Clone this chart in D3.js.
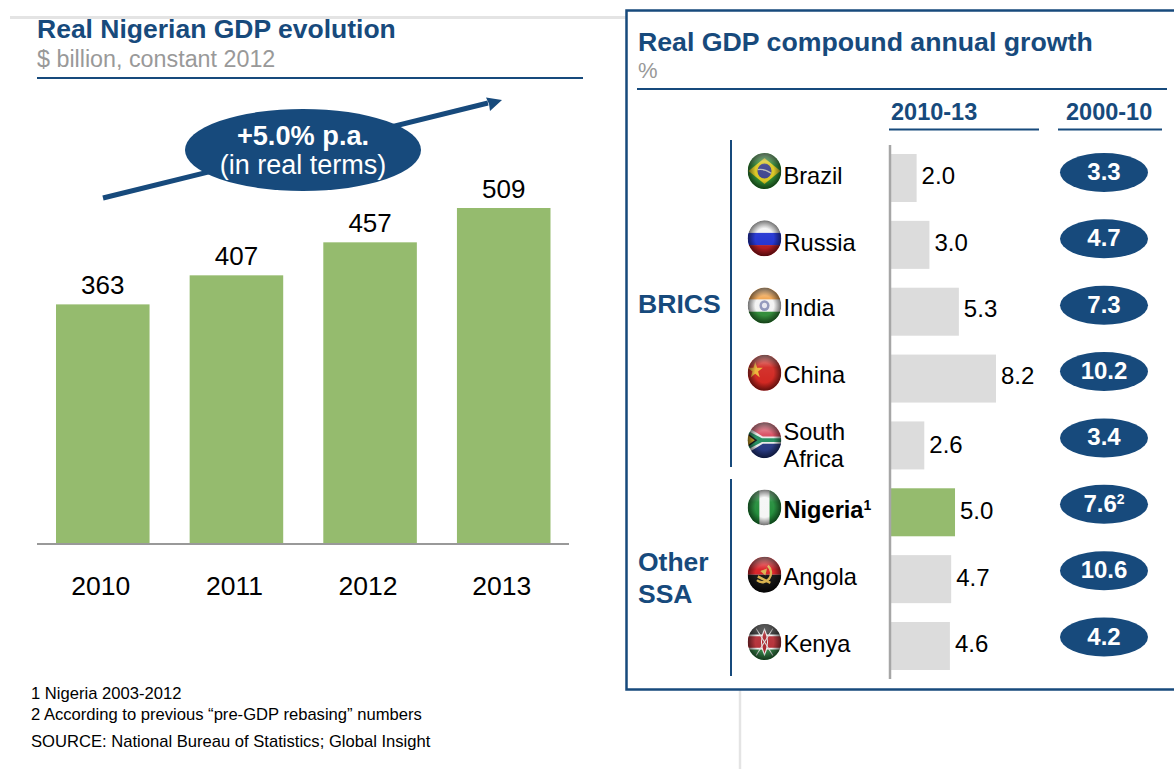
<!DOCTYPE html>
<html><head><meta charset="utf-8">
<script src="https://d3js.org/d3.v7.min.js"></script>
<style>
html,body{margin:0;padding:0;background:#fff}
svg{display:block}
text{font-family:"Liberation Sans",Arial,sans-serif}
</style></head><body><svg id="c" width="1174" height="769"></svg>
<script>
const years = ["2010","2011","2012","2013"];
const gdpValues = [363,407,457,509];
const countries = ["Brazil","Russia","India","China","South Africa","Nigeria","Angola","Kenya"];
const growth1013 = [2.0,3.0,5.3,8.2,2.6,5.0,4.7,4.6];
const growth0010 = ["3.3","4.7","7.3","10.2","3.4","7.6","10.6","4.2"];
const highlightCountry = "Nigeria";
const footnotes = ["1 Nigeria 2003-2012","2 According to previous \u201cpre-GDP rebasing\u201d numbers","SOURCE: National Bureau of Statistics; Global Insight"];

const BLUE="#174a7c", GREEN="#95bb6e", GREY="#dcdcdc";
const svg=d3.select("#c");
const text=(x,y,s,size,o={})=>svg.append("text").attr("x",x).attr("y",y).attr("font-size",size)
  .attr("font-weight",o.bold?"bold":"normal").attr("fill",o.fill||"#000").attr("text-anchor",o.anchor||"start").text(s);
const line=(x1,y1,x2,y2,c,w)=>svg.append("line").attr("x1",x1).attr("y1",y1).attr("x2",x2).attr("y2",y2).attr("stroke",c).attr("stroke-width",w);

// background rules
line(10,17.5,626,17.5,"#e4e4e4",3);
line(740,690,740,769,"#e4e4e4",2.5);

// ---------- left chart
text(37,38,"Real Nigerian GDP evolution",26.5,{bold:true,fill:BLUE});
text(37,67,"$ billion, constant 2012",23.3,{fill:"#999"});
line(37,78,583,78,BLUE,2);

const x=d3.scaleBand().domain(years).range([56,550.5]).paddingInner(0.3);
const y=d3.scaleLinear().domain([0,509]).range([544,208]);
svg.append("g").selectAll("rect").data(years).join("rect")
  .attr("x",d=>x(d)).attr("width",x.bandwidth())
  .attr("y",(d,i)=>y(gdpValues[i])).attr("height",(d,i)=>y(0)-y(gdpValues[i])).attr("fill",GREEN);
svg.append("g").selectAll("text").data(years).join("text")
  .attr("x",d=>x(d)+x.bandwidth()/2).attr("y",(d,i)=>y(gdpValues[i])-10)
  .attr("text-anchor","middle").attr("font-size",26).text((d,i)=>gdpValues[i]);
line(37,544,569,544,"#999",2);
const xAxis=svg.append("g").attr("transform","translate(-2,544)")
  .call(d3.axisBottom(x).tickSize(0).tickPadding(32));
xAxis.select(".domain").remove();
xAxis.selectAll("text").attr("font-size",26.5).attr("font-family",'"Liberation Sans",Arial,sans-serif').attr("fill","#000");

// arrow + callout
svg.append("path").attr("d",d3.line()([[103,198],[488,103]])).attr("stroke",BLUE).attr("stroke-width",5).attr("fill","none");
svg.append("path").attr("d","M502,100 L486,97.5 L489,104 L490,111 Z").attr("fill",BLUE);
svg.append("ellipse").attr("cx",303).attr("cy",150).attr("rx",118).attr("ry",41).attr("fill",BLUE);
text(303,145,"+5.0% p.a.",27.2,{bold:true,fill:"#fff",anchor:"middle"});
text(303,174,"(in real terms)",27,{fill:"#fff",anchor:"middle"});

// footnotes
[699,720,747].forEach((b,i)=>text(31,b,footnotes[i],16.6));

// ---------- right panel
svg.append("rect").attr("x",626.5).attr("y",10.5).attr("width",620).attr("height",679).attr("fill","#fff").attr("stroke",BLUE).attr("stroke-width",2.5);
text(638,51,"Real GDP compound annual growth",26.7,{bold:true,fill:BLUE});
text(638,78,"%",22,{fill:"#999"});
line(637,89,1167,89,BLUE,2);
text(891,120,"2010-13",23.5,{bold:true,fill:BLUE});
line(889,129.5,1039,129.5,BLUE,2);
text(1066,120,"2000-10",23.5,{bold:true,fill:BLUE});
line(1058,129.5,1162,129.5,BLUE,2);

line(731,140,731,467,BLUE,2);
line(731,479,731,676,BLUE,2);
text(638,313,"BRICS",26.6,{bold:true,fill:BLUE});
text(638,571,"Other",26.5,{bold:true,fill:BLUE});
text(638,603,"SSA",26.5,{bold:true,fill:BLUE});

const row=d3.scaleBand().domain(countries).range([154,670]).paddingInner(0.282);
const bx=d3.scaleLinear().domain([0,8.2]).range([891,996]);
const pillY=d3.scalePoint().domain(countries).range([172.5,637]);
const flagY=d3.scalePoint().domain(countries).range([171,642]);
const labelNudge=c=>(c==="India"||c==="China")?-1.5:0;

svg.append("g").selectAll("rect").data(countries).join("rect")
  .attr("x",bx(0)).attr("y",d=>row(d)).attr("height",row.bandwidth())
  .attr("width",(d,i)=>bx(growth1013[i])-bx(0))
  .attr("fill",d=>d===highlightCountry?GREEN:GREY);
line(890,145,890,679,"#a6a6a6",2.5);
svg.append("g").selectAll("text").data(countries).join("text")
  .attr("x",(d,i)=>bx(growth1013[i])+5).attr("y",d=>row(d)+row.bandwidth()/2+6.5+labelNudge(d)+(d==="South Africa"?1.5:0)-(d==="Brazil"?1:0))
  .attr("font-size",24).text((d,i)=>growth1013[i].toFixed(1));

// country labels
countries.forEach(c=>{
  const b=row(c)+row.bandwidth()/2+6+labelNudge(c);
  if(c==="South Africa"){
    text(783.5,b-11,"South",23.6); text(783.5,b+16,"Africa",23.6);
  } else if(c===highlightCountry){
    const t=text(783.5,b,c,23.6,{bold:true});
    t.append("tspan").attr("font-size",14).attr("dy",-8).text("1");
  } else text(783.5,b,c,23.6);
});

// pills
svg.append("g").selectAll("ellipse").data(countries).join("ellipse")
  .attr("cx",1104).attr("cy",d=>pillY(d)).attr("rx",44).attr("ry",19.5).attr("fill",BLUE);
countries.forEach((c,i)=>{
  const t=text(1104,pillY(c)+7.5,growth0010[i],24,{bold:true,fill:"#fff",anchor:"middle"});
  if(c===highlightCountry) t.append("tspan").attr("font-size",14).attr("dy",-8).text("2");
});

// flag icons (drawn in a -1..1 unit box)
const defs=svg.append("defs");
defs.append("clipPath").attr("id","disc").append("circle").attr("r",1);
const blur=defs.append("filter").attr("id","soft").attr("x","-10%").attr("y","-10%").attr("width","120%").attr("height","120%");
blur.append("feGaussianBlur").attr("stdDeviation",0.035);
const sh=defs.append("radialGradient").attr("id","shade").attr("cx","50%").attr("cy","50%").attr("r","50%");
sh.append("stop").attr("offset","55%").attr("stop-color","#000").attr("stop-opacity",0);
sh.append("stop").attr("offset","100%").attr("stop-color","#000").attr("stop-opacity",0.55);
const gl=defs.append("linearGradient").attr("id","gloss").attr("x1",0).attr("y1",0).attr("x2",0).attr("y2",1);
gl.append("stop").attr("offset","0%").attr("stop-color","#fff").attr("stop-opacity",0.6);
gl.append("stop").attr("offset","35%").attr("stop-color","#fff").attr("stop-opacity",0.08);
gl.append("stop").attr("offset","100%").attr("stop-color","#fff").attr("stop-opacity",0);

const R=(g,x,y,w,h,f)=>g.append("rect").attr("x",x).attr("y",y).attr("width",w).attr("height",h).attr("fill",f);
const P=(g,d,f,s,sw)=>g.append("path").attr("d",d).attr("fill",f||"none").attr("stroke",s||"none").attr("stroke-width",sw||0);
const C=(g,x,y,r,f)=>g.append("circle").attr("cx",x).attr("cy",y).attr("r",r).attr("fill",f);
const painters={
 "Brazil":g=>{R(g,-1,-1,2,2,"#2c8a2e");P(g,"M-.95,0L0,-.72L.95,0L0,.72Z","#d9c51c");C(g,0,0,.42,"#3a3f8c");P(g,"M-.4,-.08Q0,-.14.4,.12","none","#bbb",.07);},
 "Russia":g=>{R(g,-1,-1,2,.72,"#f1f1f1");R(g,-1,-.3,2,.7,"#1f2fd0");R(g,-1,.38,2,.62,"#b0131c");},
 "India":g=>{R(g,-1,-1,2,.68,"#ef9a3a");R(g,-1,-.34,2,.68,"#f2f2f2");R(g,-1,.34,2,.66,"#2f8a35");C(g,0,0,.3,"#8d93b8");C(g,0,0,.15,"#e8e8f0");},
 "China":g=>{R(g,-1,-1,2,2,"#d0211c");P(g,"M-.55,-.62L-.44,-.28L-.1,-.28L-.38,-.08L-.28,.26L-.55,.05L-.82,.26L-.72,-.08L-1,-.28L-.66,-.28Z","#eeb030");},
 "South Africa":g=>{R(g,-1,-1,2,1,"#d8455a");R(g,-1,0,2,1,"#23357f");P(g,"M-1,-.72L-.1,-.2L1,-.2L1,.2L-.1,.2L-1,.72Z","#e8e8e8");P(g,"M-1,-.52L-.15,-.11L1,-.11L1,.11L-.15,.11L-1,.52Z","#1f8a5a");P(g,"M-1,-.38L-.42,0L-1,.38Z","#111");P(g,"M-1,-.28L-.58,0L-1,.28Z","#d0a31c");},
 "Nigeria":g=>{R(g,-1,-1,.72,2,"#1e8a35");R(g,-.3,-1,.6,2,"#f5f5f5");R(g,.3,-1,.7,2,"#1e8a35");},
 "Angola":g=>{R(g,-1,-1,2,1,"#d8141c");R(g,-1,0,2,1,"#0b0b0b");P(g,"M.2,-.5A.5,.5 0 1 1 -.45,.3","none","#d8b04a",.14);P(g,"M-.4,.1L.35,.45","none","#d8b04a",.14);P(g,"M-.25,-.2L.15,-.35L.05,.05Z","#d8b04a");},
 "Kenya":g=>{R(g,-1,-1,2,.66,"#1a1a1a");R(g,-1,-.34,2,.68,"#b32a32");R(g,-1,.34,2,.66,"#2d7a3f");R(g,-1,-.42,2,.1,"#eee");R(g,-1,.32,2,.1,"#eee");P(g,"M0,-.72Q.36,0 0,.72Q-.36,0 0,-.72Z","#a8222a","#eee",.06);P(g,"M-.5,-.75L.5,.75M.5,-.75L-.5,.75","none","#ddd",.06);}
};
countries.forEach(c=>{
  const g=svg.append("g").attr("transform",`translate(764.5,${flagY(c)}) scale(16.8,18)`);
  const f=g.append("g").attr("clip-path","url(#disc)");
  const inner=f.append("g").attr("filter","url(#soft)");
  R(inner,-1.2,-1.2,2.4,2.4,"none");
  painters[c](inner);
  f.append("circle").attr("r",1).attr("fill","url(#gloss)");
  f.append("circle").attr("r",1).attr("fill","url(#shade)");
});
</script></body></html>
